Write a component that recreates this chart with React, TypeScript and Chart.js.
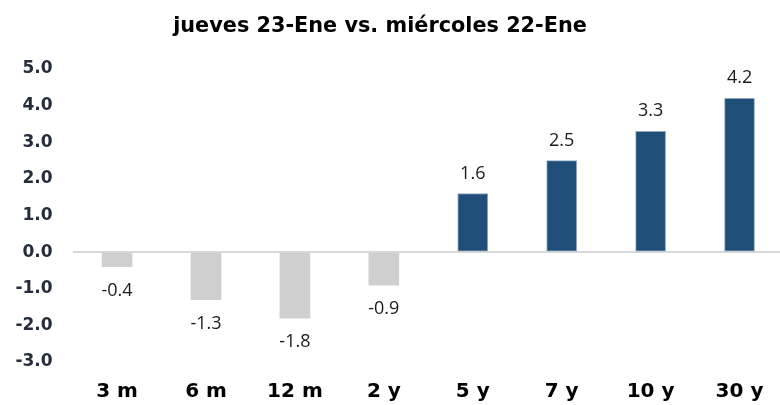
import React, { useEffect, useRef } from "react";
import { Chart, registerables } from "chart.js";

Chart.register(...registerables);

const titleText = "jueves 23-Ene vs. miércoles 22-Ene";
const categories = ["3 m", "6 m", "12 m", "2 y", "5 y", "7 y", "10 y", "30 y"];
const changes = [-0.4, -1.3, -1.8, -0.9, 1.6, 2.5, 3.3, 4.2];
const yTicks = [-3, -2, -1, 0, 1, 2, 3, 4, 5];

const NEG_COLOR = "#d0cfd0";
const POS_COLOR = "#1f4e79";

const titlePlugin = {
  id: "customTitle",
  afterDraw(chart: any) {
    const ctx = chart.ctx;
    ctx.save();
    ctx.font = "bold 20.8px 'DejaVu Sans'";
    ctx.fillStyle = "#000000";
    ctx.textAlign = "center";
    ctx.textBaseline = "alphabetic";
    ctx.fillText(titleText, 380, 32);
    ctx.restore();
  },
};

const valueLabelPlugin = {
  id: "valueLabels",
  afterDatasetsDraw(chart: any) {
    const ctx = chart.ctx;
    const meta = chart.getDatasetMeta(0);
    ctx.save();
    ctx.font = "18px 'Open Sans'";
    ctx.fillStyle = "#1a1a1a";
    ctx.textAlign = "center";
    ctx.textBaseline = "middle";
    meta.data.forEach((el: any, i: number) => {
      const v = changes[i];
      const y = v >= 0 ? el.y - 20 : el.y + 24;
      ctx.fillText(v.toFixed(1), el.x, y);
    });
    ctx.restore();
  },
};

export default function App() {
  const ref = useRef<HTMLCanvasElement | null>(null);
  useEffect(() => {
    if (!ref.current) return;
    const chart = new Chart(ref.current, {
      type: "bar",
      data: {
        labels: categories,
        datasets: [
          {
            data: changes,
            backgroundColor: changes.map((v) => (v < 0 ? NEG_COLOR : POS_COLOR)),
            borderColor: changes.map((v) => (v < 0 ? NEG_COLOR : "#8ea6bf")),
            borderWidth: changes.map((v) => (v < 0 ? 0 : 1)),
            borderSkipped: false,
            barThickness: 30,
          },
        ],
      },
      options: {
        responsive: false,
        animation: false,
        devicePixelRatio: 1,
        layout: { padding: { top: 69, left: 0, right: 0, bottom: 0 } },
        plugins: {
          legend: { display: false },
          title: { display: false },
          tooltip: { enabled: false },
        },
        scales: {
          x: {
            grid: { display: false },
            border: { display: false },
            ticks: {
              font: { family: "'DejaVu Sans'", size: 20, weight: "bold" },
              color: "#000000",
              padding: 10,
            },
            afterFit(scale: any) {
              scale.height = 43;
            },
          },
          y: {
            min: -3,
            max: 5,
            afterBuildTicks(scale: any) {
              scale.ticks = yTicks.map((v) => ({ value: v }));
            },
            grid: {
              drawTicks: false,
              color: (c: any) => (c.tick && c.tick.value === 0 ? "#d9d9d9" : "rgba(0,0,0,0)"),
              lineWidth: (c: any) => (c.tick && c.tick.value === 0 ? 2 : 0),
            },
            border: { display: false },
            ticks: {
              font: { family: "'DejaVu Sans'", size: 17, weight: "bold" },
              color: "#252d3b",
              padding: 20,
              callback: (v: any) => Number(v).toFixed(1),
            },
            afterFit(scale: any) {
              scale.width = 72.6;
            },
          },
        },
      },
      plugins: [titlePlugin, valueLabelPlugin],
    });
    return () => chart.destroy();
  }, []);

  return (
    <div style={{ position: "absolute", left: 0, top: 0, width: 780, height: 405, overflow: "hidden", background: "#ffffff" }}>
      <canvas ref={ref} width={784} height={405} style={{ width: 784, height: 405, display: "block" }} />
    </div>
  );
}
